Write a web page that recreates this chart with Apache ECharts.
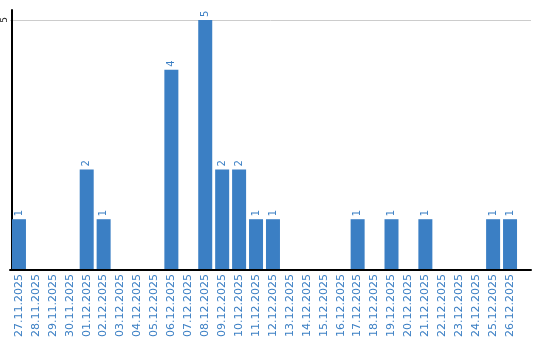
<!DOCTYPE html>
<html><head><meta charset="utf-8">
<script src="https://cdn.jsdelivr.net/npm/echarts@6/dist/echarts.min.js"></script>
<style>html,body{margin:0;padding:0;background:#fff}#c{width:540px;height:340px}</style>
</head><body><div id="c"></div>
<script>
const categories = ['27.11.2025','28.11.2025','29.11.2025','30.11.2025','01.12.2025','02.12.2025','03.12.2025','04.12.2025','05.12.2025','06.12.2025','07.12.2025','08.12.2025','09.12.2025','10.12.2025','11.12.2025','12.12.2025','13.12.2025','14.12.2025','15.12.2025','16.12.2025','17.12.2025','18.12.2025','19.12.2025','20.12.2025','21.12.2025','22.12.2025','23.12.2025','24.12.2025','25.12.2025','26.12.2025'];
const values = [1,0,0,0,2,1,0,0,0,4,0,5,2,2,1,1,0,0,0,0,1,0,1,0,1,0,0,0,1,1];
const yTicks = [5];

const blue = '#3b7fc4';
const chart = echarts.init(document.getElementById('c'), null, {renderer:'canvas'});
chart.setOption({
  animation: false,
  grid: [
    {left: 8.5, right: 21.5, top: 10, bottom: 70},
    {left: 10, right: 9, top: 20, bottom: 70}
  ],
  xAxis: [
    {type: 'category', data: categories, gridIndex: 0, boundaryGap: true,
     axisLine: {show: false}, axisTick: {show: false},
     axisLabel: {rotate: 90, interval: 0, color: blue, fontFamily: 'DejaVu Sans', fontSize: 11, margin: 5}},
    {type: 'value', gridIndex: 1, min: 0, max: 1,
     axisLine: {show: true, onZero: false, lineStyle: {color: '#000', width: 2}},
     axisTick: {show: false}, axisLabel: {show: false}, splitLine: {show: false}}
  ],
  yAxis: [
    {type: 'value', gridIndex: 0, min: 0, max: 5.2, interval: 5, offset: -1.5,
     axisLine: {show: true, lineStyle: {color: '#000', width: 2}},
     axisTick: {show: false},
     axisLabel: {customValues: yTicks, rotate: 90, color: '#222', fontFamily: 'DejaVu Sans', fontSize: 9, margin: 3},
     splitLine: {show: false}},
    {type: 'value', gridIndex: 1, min: 0, max: 5, interval: 5,
     axisLine: {show: false}, axisTick: {show: false}, axisLabel: {show: false},
     splitLine: {show: true, lineStyle: {color: '#cccccc', width: 1}}}
  ],
  series: [{
    type: 'bar', xAxisIndex: 0, yAxisIndex: 0, data: values.map(v => v === 0 ? null : v),
    barWidth: 14,
    itemStyle: {color: blue},
    label: {show: true, position: 'top', rotate: 90, align: 'left', verticalAlign: 'middle', distance: 3,
            color: blue, fontFamily: 'DejaVu Sans', fontSize: 10}
  }]
});
</script></body></html>
